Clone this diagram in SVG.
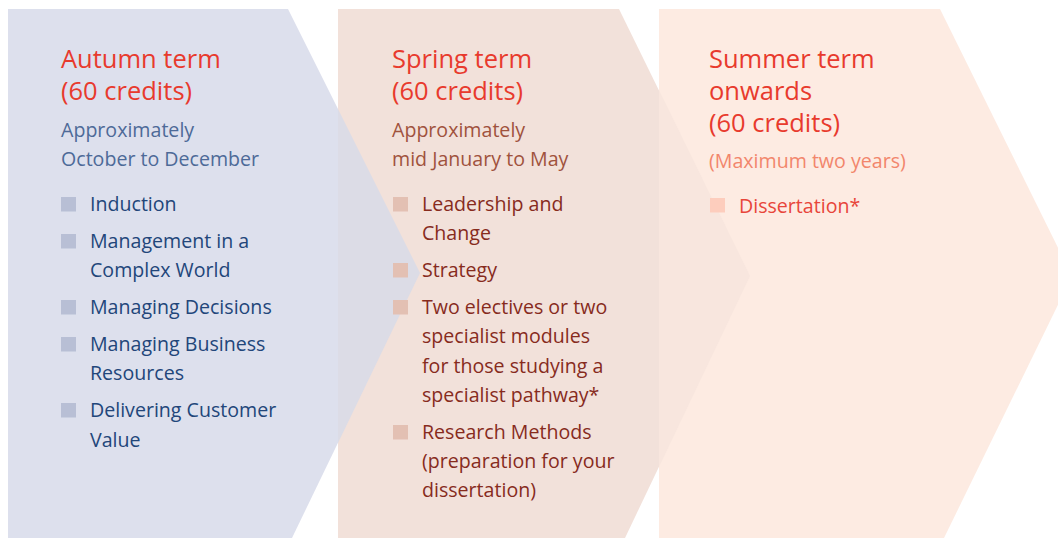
<svg xmlns="http://www.w3.org/2000/svg" width="1058" height="538" viewBox="0 0 1058 538">
  <style>
    text { font-family: "Open Sans", "Noto Sans", "Liberation Sans", sans-serif; }
    .title { font-size: 25.5px; fill: #e83a2d; }
    .sub { font-size: 19.6px; }
    .item { font-size: 19.6px; }
    .aut-sub { fill: #4d6a98; }
    .aut-item { fill: #22467a; }
    .aut-bul { fill: #b8bfd5; }
    .spr-sub { fill: #a0523d; }
    .spr-item { fill: #872b1d; }
    .spr-bul { fill: #e3c0b3; }
    .sum-sub { fill: #f2866c; }
    .sum-item { fill: #e8453a; }
    .sum-bul { fill: #fdcdbd; }
  </style>

  <!-- chevron backgrounds -->
  <g id="shapes">
    <polygon points="8,9 288,9 420,273 292,538 8,538" fill="#dde0ed"/>
    <polygon points="338,9 619,9 750,276 625,538 338,538" fill="#f2e1da"/>
    <polygon points="659,9 940,9 1072,276 944,538 659,538" fill="#fdebe2"/>
    <!-- overlapping areas -->
    <polygon points="338,109 420,273 338,443" fill="#dcdce6"/>
    <polygon points="659,90 750,276 659,467" fill="#f8e6de"/>
  </g>

  <g id="autumn">
    <text class="title" x="61" y="68">Autumn term</text>
    <text class="title" x="61" y="100">(60 credits)</text>
    <text class="sub aut-sub" x="61" y="137">Approximately</text>
    <text class="sub aut-sub" x="61" y="166">October to December</text>
    <rect class="aut-bul" x="61" y="197" width="15" height="14.5"/>
    <text class="item aut-item" x="90" y="211">Induction</text>
    <rect class="aut-bul" x="61" y="234" width="15" height="14.5"/>
    <text class="item aut-item" x="90" y="248">Management in a</text>
    <text class="item aut-item" x="90" y="277">Complex World</text>
    <rect class="aut-bul" x="61" y="300" width="15" height="14.5"/>
    <text class="item aut-item" x="90" y="314">Managing Decisions</text>
    <rect class="aut-bul" x="61" y="337" width="15" height="14.5"/>
    <text class="item aut-item" x="90" y="351">Managing Business</text>
    <text class="item aut-item" x="90" y="380">Resources</text>
    <rect class="aut-bul" x="61" y="403" width="15" height="14.5"/>
    <text class="item aut-item" x="90" y="417">Delivering Customer</text>
    <text class="item aut-item" x="90" y="447">Value</text>
  </g>

  <g id="spring">
    <text class="title" x="392" y="68">Spring term</text>
    <text class="title" x="392" y="100">(60 credits)</text>
    <text class="sub spr-sub" x="392" y="137">Approximately</text>
    <text class="sub spr-sub" x="392" y="166">mid January to May</text>
    <rect class="spr-bul" x="393" y="197" width="15" height="14.5"/>
    <text class="item spr-item" x="422" y="211">Leadership and</text>
    <text class="item spr-item" x="422" y="240">Change</text>
    <rect class="spr-bul" x="393" y="263" width="15" height="14.5"/>
    <text class="item spr-item" x="422" y="277">Strategy</text>
    <rect class="spr-bul" x="393" y="300" width="15" height="14.5"/>
    <text class="item spr-item" x="422" y="314">Two electives or two</text>
    <text class="item spr-item" x="422" y="343">specialist modules</text>
    <text class="item spr-item" x="422" y="373">for those studying a</text>
    <text class="item spr-item" x="422" y="402">specialist pathway*</text>
    <rect class="spr-bul" x="393" y="425" width="15" height="14.5"/>
    <text class="item spr-item" x="422" y="439">Research Methods</text>
    <text class="item spr-item" x="422" y="468">(preparation for your</text>
    <text class="item spr-item" x="422" y="497">dissertation)</text>
  </g>

  <g id="summer">
    <text class="title" x="709" y="68">Summer term</text>
    <text class="title" x="709" y="100">onwards</text>
    <text class="title" x="709" y="132">(60 credits)</text>
    <text class="sub sum-sub" x="709" y="168">(Maximum two years)</text>
    <rect class="sum-bul" x="710" y="198" width="15" height="14.5"/>
    <text class="item sum-item" x="739" y="213">Dissertation*</text>
  </g>
</svg>
